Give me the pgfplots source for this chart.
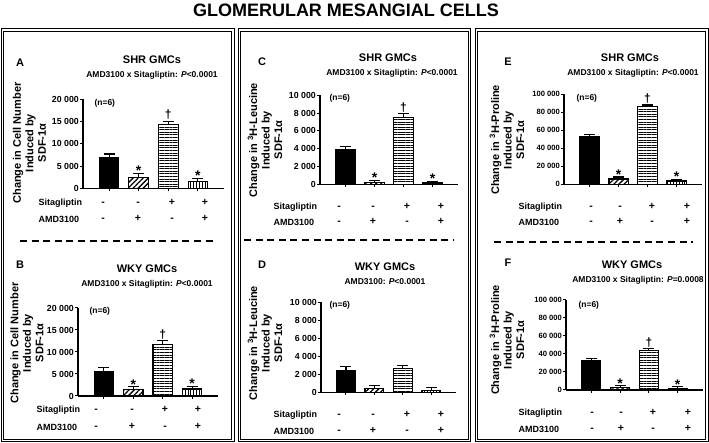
\documentclass[border=0pt]{standalone}
\usepackage{fontspec}
\setmainfont{Liberation Sans}
\usepackage{pgfplots}
\pgfplotsset{compat=1.18}
\usetikzlibrary{patterns.meta}

\newcommand\fs[1]{\fontsize{#1bp}{#1bp}\selectfont\bfseries}
\newcommand\st[2]{\node[anchor=base, inner sep=0pt, yshift=-2.5bp, font=\fs{14}] at (axis cs:#1,#2) {*};}
\newcommand\dg[2]{\node[anchor=base, inner sep=0pt, yshift=2.5bp, font=\fs{12}] at (axis cs:#1,#2) {†};}
\newcommand\ylab[3]{\node[rotate=90, align=center, font=\fontsize{11bp}{12.5bp}\selectfont\bfseries] at (#1,#2) {#3};}
\newcommand\rowlab[3]{%
  \node[anchor=west, font=\fs{9}] at (#1,#2) {Sitagliptin};
  \node[anchor=west, font=\fs{9}] at (#1,#3) {AMD3100};}

\pgfplotsset{
 panel/.style={scale only axis, anchor=south west, xmin=-0.88, xmax=3.88, ymin=0,
   axis x line*=bottom, axis y line*=left, axis line style={-, line width=1.1bp},
   xtick={0,1,2,3}, xticklabels={,,,}, tick align=outside, major tick length=3bp,
   tick style={line width=1bp, black}, scaled y ticks=false,
   yticklabel style={font=\fs{8.8}, inner sep=1bp}, clip=false},
 mybar/.style={ybar, bar width=0.66, bar shift=0pt, draw=black, line width=1.1bp,
   error bars/y dir=plus, error bars/y explicit,
   error bars/error bar style={line width=1.1bp, black},
   error bars/error mark options={rotate=90, mark size=5.5bp, line width=1.1bp, black}},
 b1/.style={mybar, fill=black},
 b2/.style={mybar, pattern={Lines[angle=45,distance=3.6pt,line width=1.3pt]}},
 b3/.style={mybar, pattern={Lines[angle=0,distance=2.6pt,line width=0.5pt]}},
 b4/.style={mybar, pattern={Lines[angle=90,distance=2.9pt,line width=0.5pt]}},
}

\begin{document}
\begin{tikzpicture}
\begin{scope}[x=1bp, y=1bp]
\useasboundingbox (0,0) rectangle (709,443);

% title and boxes
\node[font=\fs{18}] at (346,432.5) {GLOMERULAR MESANGIAL CELLS};
\draw[line width=1bp] (1,1) rectangle (234,414);
\draw[line width=0.7bp] (3.3,3.3) rectangle (231.7,411.7);
\draw[line width=1bp] (238.5,1) rectangle (470.5,414);
\draw[line width=0.7bp] (240.8,3.3) rectangle (468.2,411.7);
\draw[line width=1bp] (475,1) rectangle (708,414);
\draw[line width=0.7bp] (477.3,3.3) rectangle (705.7,411.7);
\draw[line width=2.8bp, dash pattern=on 7bp off 4.6bp] (20,202) -- (214,202);
\draw[line width=2.8bp, dash pattern=on 7bp off 4.6bp] (244,203) -- (453,203);
\draw[line width=2.8bp, dash pattern=on 7bp off 4.6bp] (494,201) -- (693,201);

% ---------- Panel A ----------
\node[font=\fs{11}] at (20,380) {A};
\node[font=\fs{11}] at (152,383) {SHR GMCs};
\node[font=\fs{8.5}] at (152,368) {AMD3100 x Sitagliptin: \textit{P}<0.0001};
\ylab{29.5}{300}{Change in Cell Number\\Induced by\\SDF-1α}
\node[anchor=west, font=\fs{8.5}] at (91,340) {(n=6)};
\rowlab{35}{240}{224}
\foreach \x/\s/\t in {103/-/-,138/-/+,172/+/-,205/+/+}{
  \node[anchor=base, font=\fs{10.5}] at (\x,237) {\s};
  \node[anchor=base, font=\fs{10.5}] at (\x,221) {\t};}

% ---------- Panel B ----------
\node[font=\fs{11}] at (20,178) {B};
\node[font=\fs{11}] at (147,174) {WKY GMCs};
\node[font=\fs{8.5}] at (147,159) {AMD3100 x Sitagliptin: \textit{P}<0.0001};
\ylab{27}{100}{Change in Cell Number\\Induced by\\SDF-1α}
\node[anchor=west, font=\fs{8.5}] at (86,132) {(n=6)};
\rowlab{33}{33}{16}
\foreach \x/\s/\t in {96/-/-,132/-/+,165/+/-,198/+/+}{
  \node[anchor=base, font=\fs{10.5}] at (\x,30) {\s};
  \node[anchor=base, font=\fs{10.5}] at (\x,13) {\t};}

% ---------- Panel C ----------
\node[font=\fs{11}] at (262,381) {C};
\node[font=\fs{11}] at (388,385) {SHR GMCs};
\node[font=\fs{8.5}] at (392,370) {AMD3100 x Sitagliptin: \textit{P}<0.0001};
\ylab{265}{303}{Change in \textsuperscript{3}H-Leucine\\Induced by\\SDF-1α}
\node[anchor=west, font=\fs{8.5}] at (326,344.5) {(n=6)};
\rowlab{270}{236}{221}
\foreach \x/\s/\t in {339/-/-,373/-/+,407/+/-,441/+/+}{
  \node[anchor=base, font=\fs{10.5}] at (\x,233) {\s};
  \node[anchor=base, font=\fs{10.5}] at (\x,218) {\t};}

% ---------- Panel D ----------
\node[font=\fs{11}] at (262,178) {D};
\node[font=\fs{11}] at (385,176) {WKY GMCs};
\node[font=\fs{8.5}] at (385,161) {AMD3100: \textit{P}<0.0001};
\ylab{265}{100}{Change in \textsuperscript{3}H-Leucine\\Induced by\\SDF-1α}
\node[anchor=west, font=\fs{8.5}] at (326,138) {(n=6)};
\rowlab{270}{28}{12}
\foreach \x/\s/\t in {339/-/-,373/-/+,407/+/-,441/+/+}{
  \node[anchor=base, font=\fs{10.5}] at (\x,25) {\s};
  \node[anchor=base, font=\fs{10.5}] at (\x,9) {\t};}

% ---------- Panel E ----------
\node[font=\fs{11}] at (508,381) {E};
\node[font=\fs{11}] at (630,385) {SHR GMCs};
\node[font=\fs{8.5}] at (633,370) {AMD3100 x Sitagliptin: \textit{P}<0.0001};
\ylab{507}{303}{Change in \textsuperscript{3}H-Proline\\Induced by\\SDF-1α}
\node[anchor=west, font=\fs{8.5}] at (573,345) {(n=6)};
\rowlab{515}{236}{221}
\foreach \x/\s/\t in {591/-/-,620/-/+,652/+/-,687/+/+}{
  \node[anchor=base, font=\fs{10.5}] at (\x,233) {\s};
  \node[anchor=base, font=\fs{10.5}] at (\x,218) {\t};}

% ---------- Panel F ----------
\node[font=\fs{11}] at (508,180) {F};
\node[font=\fs{11}] at (632,178) {WKY GMCs};
\node[font=\fs{8.5}] at (638,163) {AMD3100 x Sitagliptin: \textit{P}=0.0008};
\ylab{507}{103}{Change in \textsuperscript{3}H-Proline\\Induced by\\SDF-1α}
\node[anchor=west, font=\fs{8.5}] at (575,138) {(n=6)};
\rowlab{515}{30}{14}
\foreach \x/\s/\t in {592/-/-,621/-/+,653/+/-,688/+/+}{
  \node[anchor=base, font=\fs{10.5}] at (\x,27) {\s};
  \node[anchor=base, font=\fs{10.5}] at (\x,11) {\t};}
\end{scope}

% ---------- axes ----------
\begin{axis}[panel, at={(83bp,254.7bp)}, width=141bp, height=89bp, ymax=20000,
  ytick={0,5000,10000,15000,20000}, yticklabels={0,5 000,10 000,15 000,20 000}]
\addplot[b1] coordinates {(0,7000) +- (0,700)};
\addplot[b2] coordinates {(1,2500) +- (0,900)};
\addplot[b3] coordinates {(2,14400) +- (0,700)};
\addplot[b4] coordinates {(3,1500) +- (0,800)};
\st{1}{3400}\dg{2}{15100}\st{3}{2300}
\end{axis}

\begin{axis}[panel, at={(78bp,47bp)}, width=140bp, height=88bp, ymax=20000,
  ytick={0,5000,10000,15000,20000}, yticklabels={0,5 000,10 000,15 000,20 000}]
\addplot[b1] coordinates {(0,5500) +- (0,900)};
\addplot[b2] coordinates {(1,1500) +- (0,600)};
\addplot[b3] coordinates {(2,11800) +- (0,800)};
\addplot[b4] coordinates {(3,1600) +- (0,600)};
\st{1}{2100}\dg{2}{12600}\st{3}{2200}
\end{axis}

\begin{axis}[panel, at={(320bp,258.7bp)}, width=138bp, height=89bp, ymax=10000,
  ytick={0,2000,4000,6000,8000,10000}, yticklabels={0,2 000,4 000,6 000,8 000,10 000}]
\addplot[b1] coordinates {(0,3900) +- (0,300)};
\addplot[b2] coordinates {(1,200) +- (0,250)};
\addplot[b3] coordinates {(2,7550) +- (0,400)};
\addplot[b4] coordinates {(3,150) +- (0,200)};
\st{1}{450}\dg{2}{7950}\st{3}{350}
\end{axis}

\begin{axis}[panel, at={(321bp,50.7bp)}, width=135bp, height=90bp, ymax=10000,
  ytick={0,2000,4000,6000,8000,10000}, yticklabels={0,2 000,4 000,6 000,8 000,10 000}]
\addplot[b1] coordinates {(0,2450) +- (0,400)};
\addplot[b2] coordinates {(1,400) +- (0,350)};
\addplot[b3] coordinates {(2,2600) +- (0,400)};
\addplot[b4] coordinates {(3,150) +- (0,400)};
\end{axis}

\begin{axis}[panel, at={(564bp,258.8bp)}, width=138bp, height=90bp, ymax=100000,
  yticklabel style={font=\fs{7.6}},
  ytick={0,20000,40000,60000,80000,100000}, yticklabels={0,20 000,40 000,60 000,80 000,100 000}]
\addplot[b1] coordinates {(0,53000) +- (0,2000)};
\addplot[b2] coordinates {(1,5800) +- (0,2200)};
\addplot[b3] coordinates {(2,86500) +- (0,1500)};
\addplot[b4] coordinates {(3,3500) +- (0,2000)};
\st{1}{8000}\dg{2}{88000}\st{3}{5500}
\end{axis}

\begin{axis}[panel, at={(566bp,53bp)}, width=137bp, height=90bp, ymax=100000,
  yticklabel style={font=\fs{7.6}},
  ytick={0,20000,40000,60000,80000,100000}, yticklabels={0,20 000,40 000,60 000,80 000,100 000}]
\addplot[b1] coordinates {(0,33000) +- (0,1500)};
\addplot[b2] coordinates {(1,2600) +- (0,2000)};
\addplot[b3] coordinates {(2,43500) +- (0,2500)};
\addplot[b4] coordinates {(3,1800) +- (0,2000)};
\st{1}{4600}\dg{2}{46000}\st{3}{3800}
\end{axis}

\end{tikzpicture}
\end{document}
